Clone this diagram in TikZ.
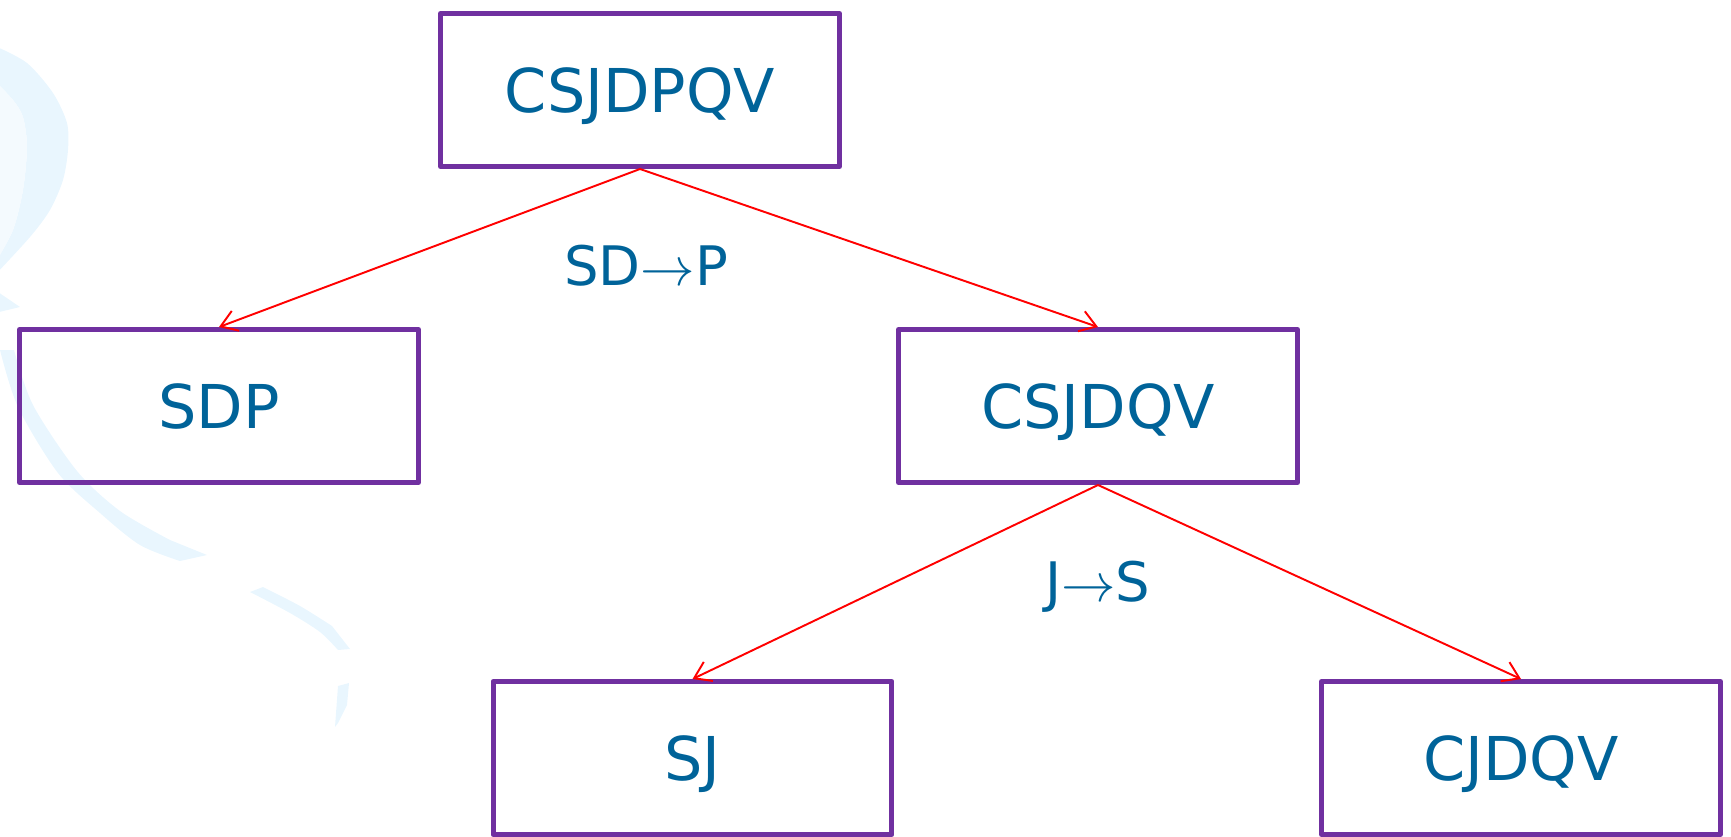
\documentclass[tikz,border=0pt]{standalone}
\usepackage{fix-cm}
\usepackage{fontspec}
\setmainfont{DejaVu Sans}
\usetikzlibrary{arrows.meta}

\definecolor{boxpurple}{RGB}{112,48,160}
\definecolor{txtblue}{RGB}{0,99,153}
\definecolor{swirlblue}{RGB}{233,246,254}
\definecolor{swirlpale}{RGB}{244,250,254}

\tikzset{
    setbox/.style={draw=boxpurple, line width=2.85pt, line join=round,
        minimum width=7.98cm, minimum height=3.06cm, inner sep=0pt,
        text=txtblue, font=\fontsize{34.4}{40}\selectfont,
        text height=0.88cm, text depth=0pt},
    fdlabel/.style={text=txtblue, font=\fontsize{31}{37}\selectfont,
        inner sep=0pt, text height=0.78cm, text depth=0pt},
    decomp/.style={draw=red, line width=1.1pt,
        -{Straight Barb[length=9pt,width=12pt]}},
}

\begin{document}
\begin{tikzpicture}[x=0.02cm, y=-0.02cm]
    
    \useasboundingbox (0,0) rectangle (1731,836);
    
    % background swirl
    \fill[swirlblue] plot[smooth] coordinates {(-5,46) (27,63) (53,93) (67,123) (68,150) (63,180) (50,210) (30,237) (-5,275)}
        -- plot[smooth] coordinates {(-5,263) (13,230) (23,190) (27,147) (23,117) (13,100) (-5,81)} -- cycle;
    \fill[swirlpale] plot[smooth] coordinates {(-5,81) (13,100) (23,117) (27,147) (23,190) (13,230) (-5,263)} -- cycle;
    \fill[swirlblue] (-5,290) -- (20,307) -- (-5,313) -- cycle;
    \fill[swirlblue] plot[smooth] coordinates {(0,350) (18,407) (58,473) (100,513) (140,545) (180,561)}
        -- (207,555) -- plot[smooth] coordinates {(170,540) (120,511) (77,471) (33,405) (14,350)} -- cycle;
    \fill[swirlblue] plot[smooth] coordinates {(250,592) (290,613) (320,632) (338,650)}
        -- (350,649) -- plot[smooth] coordinates {(332,626) (300,606) (263,587)} -- cycle;
    \fill[swirlblue] (338,686) -- (349,683) -- (347,705) -- (338,723) -- (335,727) -- cycle;
    
    % schemes
    \node[setbox] (csjdpqv) at (640,90) {CSJDPQV};
    \node[setbox] (sdp) at (219,406) {SDP};
    \node[setbox] (csjdqv) at (1098,406) {CSJDQV};
    \node[setbox] (sj) at (692.5,758) {SJ};
    \node[setbox] (cjdqv) at (1521,758) {CJDQV};
    
    % dependencies used to split
    \node[fdlabel] (fdsdp) at (646,266) {SD$\rightarrow$P};
    \node[fdlabel] (fdjs) at (1098,582) {J$\rightarrow$S};
    
    \draw[decomp] (csjdpqv.south) -- (sdp.north);
    \draw[decomp] (csjdpqv.south) -- (csjdqv.north);
    \draw[decomp] (csjdqv.south) -- (sj.north);
    \draw[decomp] (csjdqv.south) -- (cjdqv.north);
    
\end{tikzpicture}
\end{document}
